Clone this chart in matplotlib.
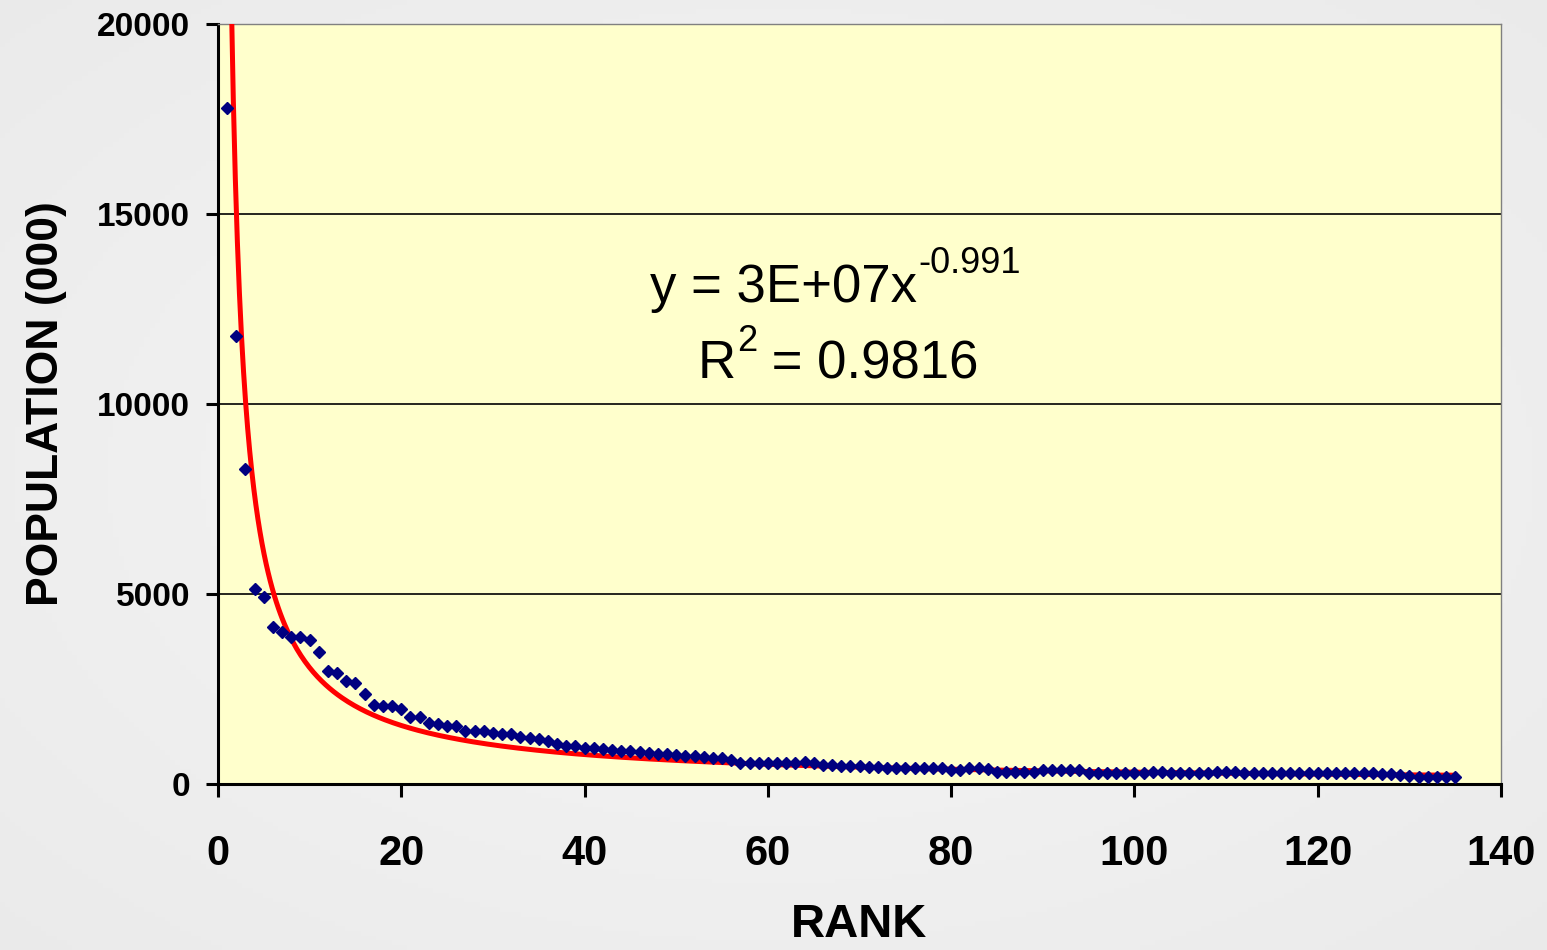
import numpy as np
import matplotlib
matplotlib.use("Agg")
import matplotlib.pyplot as plt

plt.rcParams['font.family'] = ['Liberation Sans', 'DejaVu Sans']

# population (000) of each rank
population = [
    17800, 11800, 8300, 5130, 4920, 4120, 3990, 3880, 3870, 3790,
    3480, 2980, 2930, 2710, 2670, 2360, 2090, 2060, 2060, 1970,
    1770, 1770, 1600, 1570, 1540, 1540, 1400, 1400, 1390, 1350,
    1310, 1310, 1240, 1210, 1190, 1120, 1050, 1010, 1000, 940,
    940, 910, 890, 875, 870, 830, 805, 780, 780, 775,
    740, 735, 715, 695, 690, 630, 550, 545, 545, 545,
    545, 560, 560, 575, 560, 500, 500, 485, 480, 480,
    455, 455, 415, 412, 412, 410, 410, 410, 410, 370,
    368, 410, 410, 405, 325, 325, 325, 325, 325, 365,
    365, 365, 360, 360, 280, 280, 280, 280, 280, 280,
    295, 320, 320, 280, 280, 280, 280, 280, 320, 320,
    320, 280, 280, 280, 280, 280, 280, 280, 280, 280,
    280, 280, 280, 280, 280, 280, 270, 260, 250, 200,
    195, 195, 195, 195, 195,
]
rank = np.arange(1, len(population) + 1)

# power trendline y = a * x^b (a in thousands)
trend_a = 3.0e4
trend_b = -0.991
r_squared = 0.9816

x_ticks = [0, 20, 40, 60, 80, 100, 120, 140]
y_ticks = [0, 5000, 10000, 15000, 20000]

fig = plt.figure(figsize=(15.47, 9.5), dpi=100, facecolor='#eeeeee')

# soft light-grey backdrop, lighter in the middle
bg = fig.add_axes([0, 0, 1, 1], zorder=-10)
gy, gx = np.mgrid[-1:1:200j, -1:1:300j]
shade = 0.965 - 0.045 * np.clip(np.sqrt(gx ** 2 + gy ** 2) / 1.4, 0, 1)
bg.imshow(np.dstack([shade] * 3), aspect='auto', extent=(0, 1, 0, 1))
bg.axis('off')

ax = fig.add_axes([0.1409, 0.1747, 0.8294, 0.8000])
ax.set_facecolor('#FFFFCC')

# trendline
xs = np.linspace(1, rank[-1], 600)
ax.plot(xs, trend_a * xs ** trend_b, color='#FF0000', lw=3.6, zorder=3)

# data points
ax.plot(rank, population, linestyle='none', marker='D', ms=6,
        color='#000080', zorder=4)

ax.set_xlim(0, 140)
ax.set_ylim(0, 20000)
ax.set_xticks(x_ticks)
ax.set_yticks(y_ticks)
ax.grid(axis='y', color='black', lw=1.2)
ax.set_axisbelow(True)

for s in ['top', 'right']:
    ax.spines[s].set_color('#808080')
    ax.spines[s].set_linewidth(1.0)
for s in ['left', 'bottom']:
    ax.spines[s].set_color('black')
    ax.spines[s].set_linewidth(2.2)

ax.tick_params(axis='x', direction='out', length=9, width=2.2, pad=27,
               labelsize=30)
ax.tick_params(axis='y', direction='out', length=9, width=2.2, pad=11,
               labelsize=24)
for lbl in ax.get_xticklabels() + ax.get_yticklabels():
    lbl.set_fontweight('bold')

ax.set_xlabel('RANK', fontsize=34, fontweight='bold', labelpad=21)
ax.set_ylabel('POPULATION (000)', fontsize=32, fontweight='bold', labelpad=22)

# trendline equation, built from pieces so the superscripts sit right
t1 = ax.text(47.1, 12680, 'y = 3E+07x', fontsize=38, va='baseline')
ax.annotate('%.3f' % trend_b, xy=(1, 13450), xycoords=(t1, 'data'),
            xytext=(1, 0), textcoords='offset points',
            fontsize=26, va='baseline')
t2 = ax.text(52.3, 10680, 'R', fontsize=38, va='baseline')
t3 = ax.annotate('2', xy=(1, 11400), xycoords=(t2, 'data'),
                 xytext=(1, 0), textcoords='offset points',
                 fontsize=26, va='baseline')
ax.annotate(' = %.4f' % r_squared, xy=(1, 10680), xycoords=(t3, 'data'),
            xytext=(0, 0), textcoords='offset points',
            fontsize=38, va='baseline')

fig.savefig('out.png', dpi=100, facecolor=fig.get_facecolor())
